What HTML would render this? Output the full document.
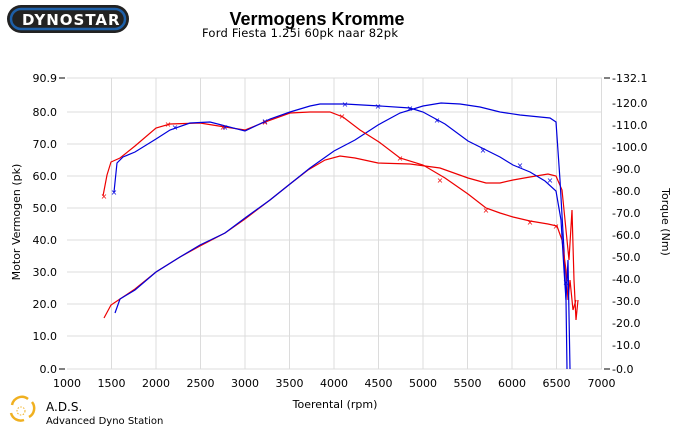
<!DOCTYPE html>
<html><head><meta charset="utf-8"><style>
body{margin:0;background:#fff;width:685px;height:428px;overflow:hidden;font-family:"DejaVu Sans","Liberation Sans",sans-serif}
</style></head><body>
<svg width="685" height="428" xmlns="http://www.w3.org/2000/svg" font-family="DejaVu Sans, Liberation Sans, sans-serif">
<!-- logo -->
<rect x="7" y="5" width="122" height="28" rx="14" fill="#222"/>
<rect x="11" y="9" width="114" height="20" rx="10" fill="none" stroke="#1d5fa8" stroke-width="2.5"/>
<text x="22" y="25" font-size="15" font-weight="bold" fill="#fff" letter-spacing="1">DYNOSTAR</text>
<text x="317" y="25" font-size="18" font-weight="bold" font-family="Liberation Sans, sans-serif" text-anchor="middle">Vermogens Kromme</text>
<text x="300" y="37" font-size="11.5" font-family="DejaVu Sans, sans-serif" text-anchor="middle" fill="#000" textLength="196">Ford Fiesta 1.25i 60pk naar 82pk</text>
<!-- grid -->
<g stroke="#dcdcdc" stroke-width="1">
<path d="M67 78H602M67 112H602M67 144H602M67 176H602M67 208H602M67 240H602M67 272H602M67 304H602M67 336H602"/>
<path d="M111.5 78V369M156 78V369M200.5 78V369M245 78V369M289.5 78V369M334 78V369M378.5 78V369M423 78V369M467.5 78V369M512 78V369M556.5 78V369M601.5 78V369"/>
</g>
<path d="M67 369H602" stroke="#dcdcdc"/>
<g stroke="#000"><path d="M59 78H65M59 369H65M604 78H610M604 369H610"/></g>
<g font-size="11" fill="#000" text-anchor="end">
<text x="57" y="82">90.9</text><text x="57" y="116">80.0</text><text x="57" y="148">70.0</text><text x="57" y="180">60.0</text><text x="57" y="212">50.0</text><text x="57" y="244">40.0</text><text x="57" y="276">30.0</text><text x="57" y="308">20.0</text><text x="57" y="340">10.0</text><text x="57" y="373">0.0</text>
</g>
<g font-size="11" fill="#000">
<text x="612" y="82">-132.1</text><text x="612" y="107">-120.0</text><text x="612" y="129">-110.0</text><text x="612" y="151">-100.0</text><text x="612" y="173">-90.0</text><text x="612" y="195">-80.0</text><text x="612" y="217">-70.0</text><text x="612" y="239">-60.0</text><text x="612" y="261">-50.0</text><text x="612" y="283">-40.0</text><text x="612" y="305">-30.0</text><text x="612" y="327">-20.0</text><text x="612" y="349">-10.0</text><text x="612" y="373">-0.0</text>
</g>
<g font-size="11" fill="#000" text-anchor="middle">
<text x="67" y="387">1000</text><text x="111.5" y="387">1500</text><text x="156" y="387">2000</text><text x="200.5" y="387">2500</text><text x="245" y="387">3000</text><text x="289.5" y="387">3500</text><text x="334" y="387">4000</text><text x="378.5" y="387">4500</text><text x="423" y="387">5000</text><text x="467.5" y="387">5500</text><text x="512" y="387">6000</text><text x="556.5" y="387">6500</text><text x="601.5" y="387">7000</text>
<text x="335" y="408" font-size="11">Toerental (rpm)</text>
</g>
<text transform="translate(20,222) rotate(-90)" font-size="11" text-anchor="middle">Motor Vermogen (pk)</text>
<text transform="translate(662,222) rotate(90)" font-size="11" text-anchor="middle">Torque (Nm)</text>
<!-- curves -->
<g fill="none" stroke-width="1.2">
<polyline stroke="#e00" points="104,318 111,305 120,299 135,289 156,272 180,257 200,246 225,233 245,219 270,200 290,184 308,170 325,160 340,156 355,158 378,163 410,164 440,168 468,178 486,183 500,183 513,180 530,177 548,174 556,176 562,190 566,230 569,260 572,210 574,280 576,320 578,300"/>
<polyline stroke="#00d" points="115,313 120,299 135,290 156,272 180,257 200,245 225,233 245,218 270,200 290,184 310,168 334,151 355,140 378,125 400,113 423,106 441,103 460,104 480,107 500,112 520,115 540,117 550,118 556,122 560,180 564,250 566,300 567,369"/>
<polyline stroke="#e00" points="103,196 107,175 111,162 120,158 135,146 156,128 170,124 200,123 225,127 245,130 265,122 290,113 310,112 330,112 343,117 360,130 379,142 400,158 423,165 445,178 468,194 486,208 500,213 513,217 530,221 548,224 557,226 562,240 566,270 568,300 570,280 573,310 576,300"/>
<polyline stroke="#00d" points="114,192 117,163 123,157 135,152 156,139 170,130 190,123 210,122 245,131 270,119 290,112 310,106 320,104 345,104 380,106 410,108 423,112 445,124 468,141 486,150 500,157 513,165 530,172 545,181 556,191 561,220 564,270 566,300 568,260 570,369"/>
</g>
<g font-size="8" text-anchor="middle">
<g fill="#e00"><text x="104" y="199">×</text><text x="168" y="127">×</text><text x="223" y="130">×</text><text x="265" y="125">×</text><text x="342" y="119">×</text><text x="400" y="161">×</text><text x="440" y="183">×</text><text x="486" y="213">×</text><text x="530" y="225">×</text><text x="556" y="229">×</text></g>
<g fill="#00d"><text x="114" y="195">×</text><text x="175" y="130">×</text><text x="225" y="130">×</text><text x="265" y="124">×</text><text x="345" y="107">×</text><text x="378" y="109">×</text><text x="410" y="111">×</text><text x="437" y="123">×</text><text x="483" y="153">×</text><text x="520" y="168">×</text><text x="550" y="183">×</text><text x="566" y="285">×</text></g>
</g>
<!-- bottom logo -->
<g fill="none" stroke="#f0b020" stroke-width="2.5"><path d="M12 405a10 10 0 0 1 16 -6M32 402a10 10 0 0 1 -3 15M24 420a10 10 0 0 1 -13 -7"/></g>
<circle cx="21" cy="411" r="4" fill="none" stroke="#f0b020" stroke-dasharray="1.5 1.5"/>
<text x="46" y="411" font-size="12" fill="#000">A.D.S.</text>
<text x="46" y="424" font-size="10" fill="#000">Advanced Dyno Station</text>
</svg>
</body></html>
